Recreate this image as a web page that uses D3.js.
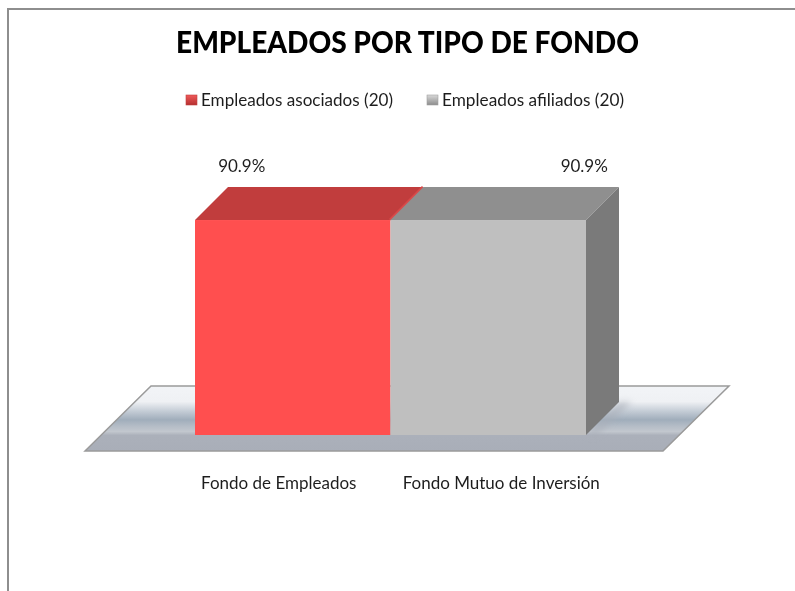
<!DOCTYPE html>
<html><head><meta charset="utf-8">
<script src="https://cdn.jsdelivr.net/npm/d3@7"></script>
<style>html,body{margin:0;padding:0;background:#fff}svg{display:block}text{font-family:Lato,"Open Sans",sans-serif}</style>
</head><body><div id="c"></div>
<script>
const titleText = "EMPLEADOS POR TIPO DE FONDO";
const categories = ["Fondo de Empleados", "Fondo Mutuo de Inversión"];
const seriesNames = ["Empleados asociados (20)", "Empleados afiliados (20)"];
const values = [90.9, 90.9];
const valueLabels = ["90.9%", "90.9%"];
const yDomain = [0, 100];

const W = 795, H = 591;
const svg = d3.select("#c").append("svg").attr("width", W).attr("height", H);
const defs = svg.append("defs");

const colors = [
  {front:"#ff5050", top:"#c13c3c", side:"#d84a4a", sw1:"#f05a5a", sw2:"#b52f2f"},
  {front:"#bfbfbf", top:"#8f8f8f", side:"#7a7a7a", sw1:"#d8d8d8", sw2:"#8c8c8c"}
];

const floorGrad = defs.append("linearGradient").attr("id","floor").attr("x1",0).attr("y1",0).attr("x2",0).attr("y2",1);
[[0,"#f2f4f7"],[0.24,"#eff1f4"],[0.38,"#c6ced7"],[0.52,"#a0adbb"],[0.62,"#b5bdc7"],[0.70,"#c2c7ce"],[0.76,"#abb0ba"],[1,"#a9aeb8"]]
  .forEach(d=>floorGrad.append("stop").attr("offset",d[0]).attr("stop-color",d[1]));
colors.forEach((c,i)=>{
  const g = defs.append("linearGradient").attr("id","sw"+i).attr("x1",0).attr("y1",0).attr("x2",0).attr("y2",1);
  g.append("stop").attr("offset",0).attr("stop-color",c.sw1);
  g.append("stop").attr("offset",1).attr("stop-color",c.sw2);
});
defs.append("filter").attr("id","soft").attr("x","-5%").attr("y","-5%").attr("width","110%").attr("height","110%")
  .append("feGaussianBlur").attr("stdDeviation",0.35);
defs.append("filter").attr("id","shadow").attr("x","-30%").attr("y","-30%").attr("width","160%").attr("height","160%")
  .append("feGaussianBlur").attr("stdDeviation",3);
defs.append("filter").attr("id","textsoft").attr("x","-5%").attr("y","-20%").attr("width","110%").attr("height","140%")
  .append("feGaussianBlur").attr("stdDeviation",0.3);

// chart frame
svg.append("path").attr("d",`M${W},9H8V${H}`).attr("fill","none").attr("stroke","#8e8e8e").attr("stroke-width",2);

// scales
const x = d3.scaleBand().domain(categories).range([195,586]).padding(0);
const y = d3.scaleLinear().domain(yDomain).range([435,198.5]);
const dx = 33, dy = -33;
const floorBack = 386, floorFront = 451;

const g = svg.append("g").attr("filter","url(#soft)");

// floor
const floorPts = [[85,floorFront],[151,floorBack],[729,floorBack],[663,floorFront]];
g.append("polygon").attr("points",floorPts.join(" ")).attr("fill","url(#floor)")
  .attr("stroke","#9a9a9a").attr("stroke-width",1.5);

// shadow of the bars on the floor
g.append("polygon").attr("points",[[586,435],[619,402],[632,402],[596,436]].join(" "))
  .attr("fill","#a9aeb8").attr("opacity",0.6).attr("filter","url(#shadow)");

// bars
const bars = g.selectAll("g.bar").data(categories).join("g").attr("class","bar");
bars.filter((d,i)=>i===1).append("polygon").attr("points",(d,i)=>{
  const l=x(d),r=l+x.bandwidth(),t=y(values[1]);
  return [[l,t],[l+dx,t+dy],[r+dx,t+dy],[r,t]].join(" ");
}).attr("fill",colors[1].top);
bars.filter((d,i)=>i===1).append("polygon").attr("points",d=>{
  const r=x(d)+x.bandwidth(),t=y(values[1]),b=y(0);
  return [[r,t],[r+dx,t+dy],[r+dx,b+dy],[r,b]].join(" ");
}).attr("fill",colors[1].side);
bars.filter((d,i)=>i===0).append("polygon").attr("points",d=>{
  const l=x(d),r=l+x.bandwidth(),t=y(values[0]);
  return [[l,t],[l+dx,t+dy],[r+dx,t+dy],[r,t]].join(" ");
}).attr("fill",colors[0].top);
// sliver of the first bar's right side, seen along its top edge
bars.filter((d,i)=>i===0).append("line")
  .attr("x1",d=>x(d)+x.bandwidth()-0.5).attr("y1",y(values[0]))
  .attr("x2",d=>x(d)+x.bandwidth()+dx-0.5).attr("y2",y(values[0])+dy)
  .attr("stroke",colors[0].side).attr("stroke-width",3);
bars.append("rect").attr("x",d=>x(d)).attr("width",x.bandwidth())
  .attr("y",(d,i)=>y(values[i])).attr("height",(d,i)=>y(0)-y(values[i]))
  .attr("fill",(d,i)=>colors[i].front);

// text
const txt = "#1f1f1f";
const tg = svg.append("g").attr("filter","url(#textsoft)");
tg.append("text").text(titleText).attr("x",407.5).attr("y",53).attr("text-anchor","middle")
  .attr("font-size",30).attr("font-weight",900).attr("fill","#000")
  .attr("textLength",463).attr("lengthAdjust","spacingAndGlyphs");

const legendX = [186,427];
const legendW = [192,182];
const lg = tg.selectAll("g.lg").data(seriesNames).join("g").attr("class","lg")
  .attr("transform",(d,i)=>`translate(${legendX[i]},95)`);
lg.append("rect").attr("width",11).attr("height",10).attr("fill",(d,i)=>`url(#sw${i})`)
  .attr("stroke",(d,i)=>i?"#a0a0a0":"#c04040").attr("stroke-width",0.6);
lg.append("text").text(d=>d).attr("x",15).attr("y",11).attr("font-size",17.5).attr("fill",txt)
  .attr("textLength",(d,i)=>legendW[i]).attr("lengthAdjust","spacingAndGlyphs");

const valueOffset = [-51,96];
tg.selectAll("text.val").data(valueLabels).join("text").attr("class","val").text(d=>d)
  .attr("x",(d,i)=>x(categories[i])+x.bandwidth()/2+valueOffset[i]).attr("y",172)
  .attr("text-anchor","middle").attr("font-size",17).attr("fill",txt);

const catOffset = [-14,13];
tg.selectAll("text.cat").data(categories).join("text").attr("class","cat").text(d=>d)
  .attr("x",(d,i)=>x(d)+x.bandwidth()/2+catOffset[i]).attr("y",489)
  .attr("text-anchor","middle").attr("font-size",17).attr("fill",txt);
</script></body></html>
